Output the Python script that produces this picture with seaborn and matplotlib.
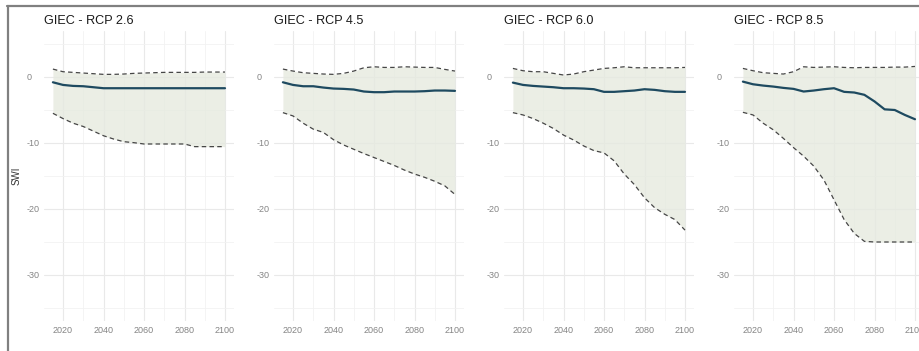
"""
SWI projections under the four GIEC / IPCC RCP scenarios
Mean (solid) with min/max envelope (dashed + ribbon)
"""
import numpy as np
import pandas as pd
import matplotlib
matplotlib.use('Agg')
import matplotlib.pyplot as plt
from matplotlib.lines import Line2D
import seaborn as sns

# ---- data ----
years = [2015, 2020, 2025, 2030, 2035, 2040, 2045, 2050, 2055,
         2060, 2065, 2070, 2075, 2080, 2085, 2090, 2095, 2100]

scenarios = ['GIEC - RCP 2.6', 'GIEC - RCP 4.5', 'GIEC - RCP 6.0', 'GIEC - RCP 8.5']

rcp26_mean = [-0.8, -1.2, -1.35, -1.4, -1.55, -1.7, -1.7, -1.7, -1.7,
              -1.7, -1.7, -1.7, -1.7, -1.7, -1.7, -1.7, -1.7, -1.7]
rcp26_upper = [1.2, 0.8, 0.7, 0.6, 0.5, 0.4, 0.4, 0.45, 0.55,
               0.6, 0.65, 0.7, 0.7, 0.7, 0.7, 0.75, 0.75, 0.75]
rcp26_lower = [-5.5, -6.3, -7.0, -7.5, -8.2, -8.9, -9.4, -9.8, -9.95,
               -10.15, -10.15, -10.15, -10.15, -10.15, -10.55, -10.55, -10.55, -10.55]

rcp45_mean = [-0.8, -1.2, -1.4, -1.4, -1.6, -1.75, -1.8, -1.9, -2.2,
              -2.3, -2.3, -2.2, -2.2, -2.2, -2.15, -2.05, -2.05, -2.1]
rcp45_upper = [1.2, 0.9, 0.65, 0.55, 0.45, 0.4, 0.55, 0.9, 1.4,
               1.55, 1.45, 1.45, 1.55, 1.5, 1.45, 1.45, 1.15, 0.9]
rcp45_lower = [-5.4, -5.9, -7.0, -7.9, -8.4, -9.5, -10.3, -10.95, -11.6,
               -12.2, -12.8, -13.4, -14.1, -14.7, -15.2, -15.8, -16.5, -17.8]

rcp60_mean = [-0.85, -1.2, -1.35, -1.45, -1.55, -1.7, -1.7, -1.75, -1.85,
              -2.25, -2.25, -2.15, -2.05, -1.85, -1.95, -2.15, -2.25, -2.25]
rcp60_upper = [1.3, 0.95, 0.8, 0.8, 0.55, 0.3, 0.45, 0.8, 1.05,
               1.3, 1.4, 1.55, 1.4, 1.4, 1.4, 1.4, 1.4, 1.45]
rcp60_lower = [-5.4, -5.75, -6.3, -7.0, -7.8, -8.8, -9.55, -10.45, -11.15,
               -11.5, -12.7, -14.7, -16.3, -18.3, -19.8, -20.8, -21.6, -23.2]

rcp85_mean = [-0.7, -1.1, -1.3, -1.45, -1.65, -1.8, -2.2, -2.05, -1.85,
              -1.7, -2.25, -2.35, -2.7, -3.7, -4.9, -5.0, -5.75, -6.4]
rcp85_upper = [1.3, 0.95, 0.65, 0.55, 0.45, 0.8, 1.55, 1.45, 1.5,
               1.55, 1.45, 1.4, 1.45, 1.45, 1.45, 1.5, 1.5, 1.6]
rcp85_lower = [-5.35, -5.75, -7.0, -8.0, -9.3, -10.7, -12.0, -13.5, -15.6,
               -18.6, -21.6, -23.7, -24.9, -25.0, -25.0, -25.0, -25.0, -25.0]

x_ticks = [2020, 2040, 2060, 2080, 2100]
y_ticks = [0, -10, -20, -30]

# ---- styling ----
MEAN_COLOR = '#1e4a60'
BOUND_COLOR = '#464646'
FILL_COLOR = '#e6eadf'
TICK_COLOR = '#858585'

sns.set_theme(style="whitegrid")
plt.rcParams['font.family'] = ['Liberation Sans', 'DejaVu Sans']

frames = []
series = [
    (rcp26_mean, rcp26_upper, rcp26_lower),
    (rcp45_mean, rcp45_upper, rcp45_lower),
    (rcp60_mean, rcp60_upper, rcp60_lower),
    (rcp85_mean, rcp85_upper, rcp85_lower),
]
for name, (m, up, lo) in zip(scenarios, series):
    frames.append(pd.DataFrame({'scenario': name, 'year': years,
                                'mean': m, 'upper': up, 'lower': lo}))
df = pd.concat(frames, ignore_index=True)

fig = plt.figure(figsize=(9.19, 3.51), dpi=100)

W, H = 919, 351
ax_w = 189.3 / W
ax_b = 1 - 321.2 / H
ax_h = (321.2 - 30.8) / H
lefts = [44.3, 274.3, 504.3, 734.3]

for i, name in enumerate(scenarios):
    ax = fig.add_axes([lefts[i] / W, ax_b, ax_w, ax_h])
    d = df[df['scenario'] == name]

    ax.fill_between(d['year'], d['lower'], d['upper'],
                    color=FILL_COLOR, alpha=0.8, lw=0, zorder=1)
    for col in ['upper', 'lower']:
        sns.lineplot(data=d, x='year', y=col, ax=ax, color=BOUND_COLOR,
                     lw=0.9, dashes=False, zorder=2)
        ax.lines[-1].set_dashes((3.6, 2.6))
    sns.lineplot(data=d, x='year', y='mean', ax=ax, color=MEAN_COLOR,
                 lw=1.6, zorder=3)

    ax.set_xlim(2010.75, 2104.25)
    ax.set_ylim(-37, 7)
    ax.set_xticks(x_ticks)
    ax.set_xticks([2030, 2050, 2070, 2090], minor=True)
    ax.set_yticks(y_ticks)
    ax.set_yticks([5, -5, -15, -25, -35], minor=True)
    ax.set_xticklabels([str(t) for t in x_ticks])
    ax.set_yticklabels([str(t) for t in y_ticks])

    ax.grid(which='major', color='#e9e9e9', lw=0.8)
    ax.grid(which='minor', color='#f2f2f2', lw=0.6)
    ax.set_axisbelow(True)
    for s in ax.spines.values():
        s.set_visible(False)

    ax.tick_params(axis='x', which='both', length=0, pad=3.2,
                   labelsize=6.5, labelcolor=TICK_COLOR)
    ax.tick_params(axis='y', which='both', length=0, pad=12.6,
                   labelsize=6.5, labelcolor=TICK_COLOR)
    plt.setp(ax.get_yticklabels(), ha='left')

    ax.set_xlabel('')
    if i == 0:
        ax.set_ylabel('SWI', fontsize=7, color='#333333')
        ax.yaxis.set_label_coords(-0.118, 0.5)
    else:
        ax.set_ylabel('')
    ax.set_title(name, loc='left', fontsize=9.1, color='#1a1a1a', pad=5)

# grey frame of the original screenshot (top and left edges)
fig.add_artist(Line2D([7 / W, 1], [1 - 6 / H, 1 - 6 / H],
                      transform=fig.transFigure, color='#808080', lw=1.6))
fig.add_artist(Line2D([8 / W, 8 / W], [0, 1 - 6 / H],
                      transform=fig.transFigure, color='#808080', lw=1.6))

fig.savefig('out.png', dpi=100)
plt.close(fig)
